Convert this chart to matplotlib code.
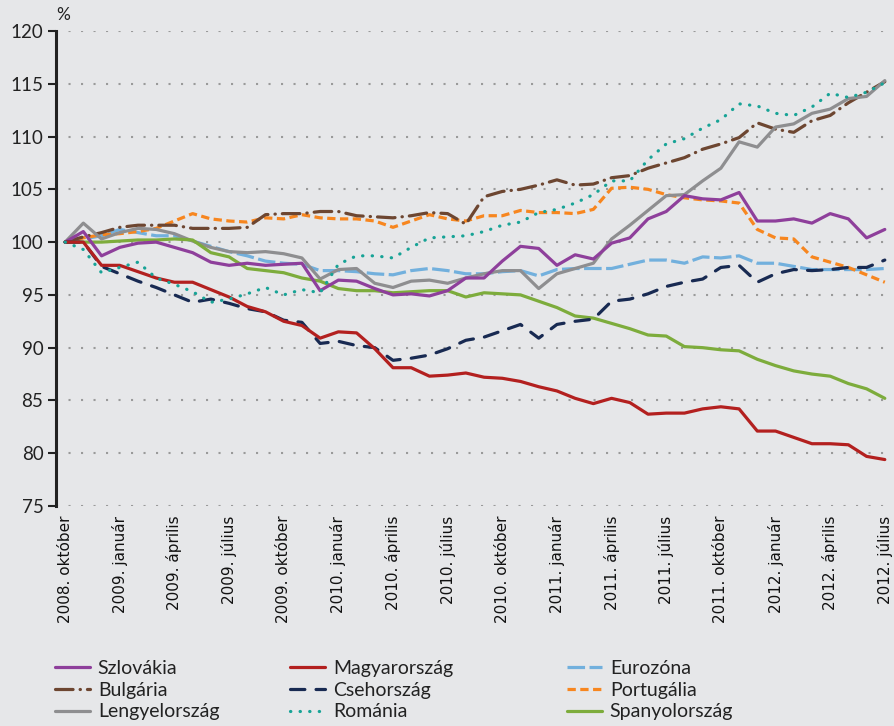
import numpy as np
import matplotlib
matplotlib.use("Agg")
from matplotlib import pyplot as plt

# havi adatok, 2008. október = 100
ticklabels = []
for ev in range(2008, 2013):
    for h in ["január", "április", "július", "október"]:
        ticklabels.append(f"{ev}. {h}")
ticklabels = ticklabels[3:-1]   # 2008. október ... 2012. július

szlovakia = [100, 101.0, 98.7, 99.5, 99.9, 100.0, 99.5, 99.0, 98.1, 97.8, 98.0, 97.8, 97.9, 98.0, 95.4, 96.4,
             96.3, 95.6, 95.0, 95.1, 94.9, 95.4, 96.6, 96.6, 98.2, 99.6, 99.4, 97.8, 98.8, 98.4, 99.9, 100.4,
             102.2, 102.9, 104.4, 104.1, 104.0, 104.7, 102.0, 102.0, 102.2, 101.8, 102.7, 102.2, 100.4, 101.2]
magyarorszag = [100, 100, 97.8, 97.8, 97.2, 96.6, 96.2, 96.2, 95.5, 94.8, 93.9, 93.4, 92.5, 92.1, 90.9, 91.5,
                91.4, 89.9, 88.1, 88.1, 87.3, 87.4, 87.6, 87.2, 87.1, 86.8, 86.3, 85.9, 85.2, 84.7, 85.2, 84.8,
                83.7, 83.8, 83.8, 84.2, 84.4, 84.2, 82.1, 82.1, 81.5, 80.9, 80.9, 80.8, 79.7, 79.4]
eurozona = [100, 100.3, 100.6, 101.2, 100.9, 100.6, 100.6, 100.1, 99.6, 99.1, 98.7, 98.2, 98.0, 97.9, 97.3, 97.3,
            97.2, 97.0, 96.9, 97.3, 97.5, 97.3, 97.0, 97.0, 97.2, 97.3, 96.8, 97.4, 97.5, 97.5, 97.5, 97.9,
            98.3, 98.3, 98.0, 98.6, 98.5, 98.7, 98.0, 98.0, 97.7, 97.4, 97.4, 97.4, 97.4, 97.5]
bulgaria = [100, 100.5, 100.9, 101.4, 101.6, 101.6, 101.6, 101.3, 101.3, 101.3, 101.4, 102.6, 102.7, 102.7, 102.9,
            102.9, 102.5, 102.4, 102.3, 102.5, 102.8, 102.7, 101.7, 104.3, 104.8, 105.0, 105.4, 105.9, 105.4, 105.5,
            106.1, 106.3, 107.0, 107.5, 108.0, 108.8, 109.3, 109.9, 111.3, 110.7, 110.4, 111.5, 112.0, 113.2, 114.2, 115.2]
csehorszag = [100, 100, 97.7, 97.0, 96.3, 95.7, 95.0, 94.3, 94.6, 94.2, 93.7, 93.4, 92.6, 92.4, 90.4, 90.6,
              90.2, 90.0, 88.8, 89.0, 89.3, 89.9, 90.7, 91.0, 91.6, 92.2, 90.9, 92.2, 92.5, 92.7, 94.4, 94.6,
              95.1, 95.8, 96.2, 96.5, 97.6, 97.8, 96.2, 97.0, 97.4, 97.3, 97.4, 97.6, 97.6, 98.3]
portugalia = [100, 100.4, 100.7, 100.8, 101.0, 101.3, 102.0, 102.7, 102.2, 102.0, 101.9, 102.3, 102.2, 102.6, 102.3,
              102.2, 102.2, 102.0, 101.4, 102.0, 102.6, 102.2, 102.0, 102.5, 102.5, 103.0, 102.8, 102.8, 102.7, 103.1,
              105.1, 105.2, 105.0, 104.5, 104.2, 104.0, 103.9, 103.7, 101.2, 100.4, 100.3, 98.6, 98.1, 97.6, 96.9, 96.2]
lengyelorszag = [100, 101.8, 100.3, 100.9, 101.3, 101.2, 100.8, 100.1, 99.5, 99.1, 99.0, 99.1, 98.9, 98.5, 96.5,
                 97.4, 97.5, 96.1, 95.7, 96.3, 96.4, 96.1, 96.6, 97.0, 97.3, 97.3, 95.6, 97.0, 97.5, 98.0, 100.3,
                 101.6, 103.0, 104.4, 104.5, 105.8, 107.0, 109.5, 109.0, 110.9, 111.2, 112.2, 112.6, 113.6, 113.8, 115.3]
romania = [100, 99.3, 97.1, 97.6, 98.1, 96.6, 96.0, 95.3, 94.3, 94.6, 95.1, 95.7, 95.0, 95.5, 95.2, 97.9,
           98.7, 98.7, 98.5, 99.5, 100.4, 100.5, 100.6, 101.0, 101.6, 101.9, 102.8, 103.1, 103.7, 104.5, 105.8,
           105.8, 107.8, 109.3, 109.8, 110.8, 111.6, 113.1, 112.9, 112.2, 112.0, 112.8, 114.1, 113.7, 114.2, 115.1]
spanyolorszag = [100, 100, 100.0, 100.1, 100.2, 100.2, 100.3, 100.2, 99.0, 98.6, 97.5, 97.3, 97.1, 96.6, 96.3,
                 95.6, 95.4, 95.4, 95.2, 95.3, 95.4, 95.4, 94.8, 95.2, 95.1, 95.0, 94.4, 93.8, 93.0, 92.8, 92.3,
                 91.8, 91.2, 91.1, 90.1, 90.0, 89.8, 89.7, 88.9, 88.3, 87.8, 87.5, 87.3, 86.6, 86.1, 85.2]

x = np.arange(len(szlovakia))
bg = "#e6e7e9"
lw = 2.3

plt.rcParams['font.family'] = ['Lato', 'DejaVu Sans']
fig = plt.figure(figsize=(8.95, 7.26), dpi=100, facecolor=bg)
ax = fig.add_axes([56 / 895, 1 - 506 / 726, (893 - 56) / 895, (506 - 31) / 726])
ax.set_facecolor(bg)

# nev: (adat, szin, vonalstilus, capstyle)
series = {
    "Eurozóna": (eurozona, "#72b0dd", (0, (5.5, 1.4)), "butt"),
    "Portugália": (portugalia, "#f7861f", (0, (2.6, 1.4)), "butt"),
    "Bulgária": (bulgaria, "#6d4631", (0, (5.5, 2.2, 0.1, 2.2)), "round"),
    "Lengyelország": (lengyelorszag, "#8e8e90", "-", "round"),
    "Spanyolország": (spanyolorszag, "#7dac3c", "-", "round"),
    "Szlovákia": (szlovakia, "#8e3f9b", "-", "round"),
    "Csehország": (csehorszag, "#182a52", (0, (4.5, 3.5)), "round"),
    "Magyarország": (magyarorszag, "#b3201f", "-", "round"),
    "Románia": (romania, "#17a396", (0, (0.1, 2.9)), "round"),
}
handles = {}
for name, (vals, col, ls, cap) in series.items():
    line, = ax.plot(x, vals, color=col, lw=lw, linestyle=ls,
                    dash_capstyle=cap, solid_capstyle="round", solid_joinstyle="round")
    handles[name] = line

ax.set_xlim(-0.5, 45.45)
ax.set_ylim(75, 120)
ax.set_yticks(np.arange(75, 121, 5))
ax.yaxis.grid(True, color="#9a9a9a", linestyle=(0, (1, 5)), lw=1.5)
ax.set_axisbelow(True)
for s in ["top", "right", "bottom"]:
    ax.spines[s].set_visible(False)
ax.spines["left"].set_linewidth(2.2)
ax.spines["left"].set_color("#222222")
ax.tick_params(axis="y", direction="out", length=6, width=1.5, color="#222222",
               labelsize=13.5, labelcolor="#222222", pad=3)

ax.set_xticks(x[::3])
ax.set_xticklabels(ticklabels, rotation=90, fontsize=11, family="DejaVu Sans", color="#111111")
ax.tick_params(axis="x", length=0, pad=7)

fig.text(63 / 895, 1 - 15 / 726, "%", fontsize=12.5, color="#222222", ha="center", va="center")

cols = [["Szlovákia", "Bulgária", "Lengyelország"],
        ["Magyarország", "Csehország", "Románia"],
        ["Eurozóna", "Portugália", "Spanyolország"]]
xs = [55, 290, 567]
for names, x0 in zip(cols, xs):
    fig.legend([handles[n] for n in names], names, loc="upper left",
               bbox_to_anchor=(x0 / 895, 1 - 660 / 726), frameon=False,
               borderpad=0, borderaxespad=0, handlelength=1.8, handletextpad=0.4,
               labelspacing=0.24, fontsize=14, labelcolor="#222222")

fig.savefig("out.png", dpi=100, facecolor=bg)
